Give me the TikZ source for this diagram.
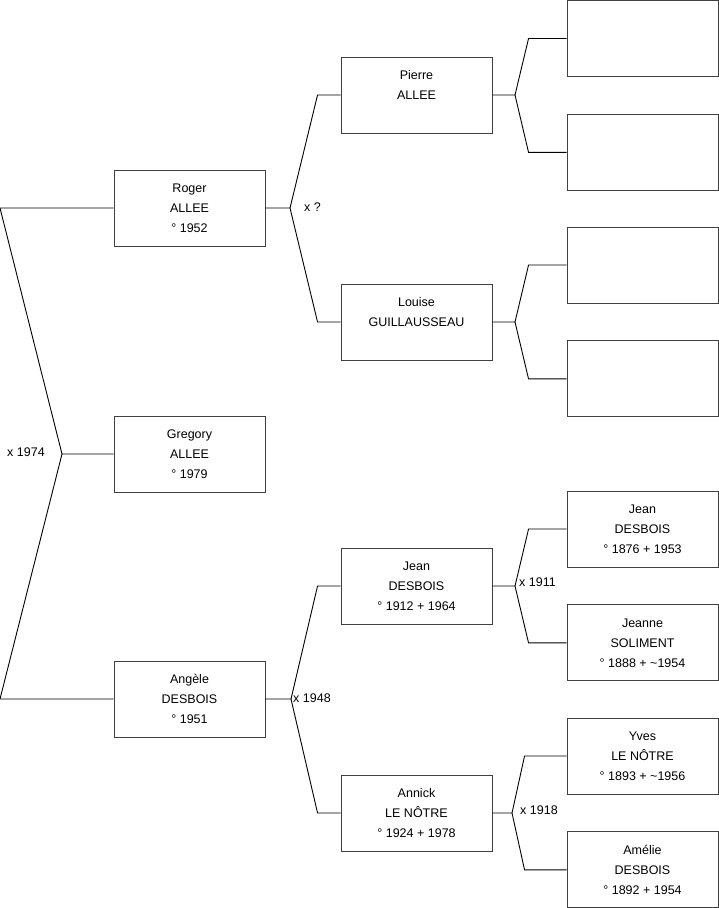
\documentclass[tikz,border=0pt]{standalone}
\usepackage{fontspec}
\setmainfont{Liberation Sans}
\usepackage{tikz}
\usetikzlibrary{positioning}

\begin{document}
\begin{tikzpicture}[
  x=1pt, y=-1pt,
  font=\fontsize{12.5}{20}\selectfont,
  person/.style={draw=black!75, line width=0.9pt, minimum width=151pt,
                 minimum height=76pt, inner sep=0pt, align=center},
  link/.style={line width=0.9pt, black},
  wed/.style={anchor=west, inner sep=0pt}
]
  \useasboundingbox[fill=white] (0,0) rectangle (719,908);

  % generation 1
  \node[person] (roger) at (189.5,208) {Roger\\ALLEE\\° 1952};
  \node[person] (gregory) at (189.5,454) {Gregory\\ALLEE\\° 1979};
  \node[person] (angele) at (189.5,699) {Angèle\\DESBOIS\\° 1951};

  % generation 2
  \node[person] (pierre) at (416.5,95) {Pierre\\ALLEE\\\mbox{}};
  \node[person] (louise) at (416.5,322) {Louise\\GUILLAUSSEAU\\\mbox{}};
  \node[person] (jean) at (416.5,586) {Jean\\DESBOIS\\° 1912 + 1964};
  \node[person] (annick) at (416.5,813) {Annick\\LE NÔTRE\\° 1924 + 1978};

  % generation 3
  \node[person] (pp) at (642.5,38.5) {};
  \node[person, below=37pt of pp] (pm) {};
  \node[person] (lp) at (642.5,265) {};
  \node[person, below=37pt of lp] (lm) {};
  \node[person] (jp) at (642.5,529) {Jean\\DESBOIS\\° 1876 + 1953};
  \node[person, below=37pt of jp] (jm) {Jeanne\\SOLIMENT\\° 1888 + \textasciitilde 1954};
  \node[person] (ap) at (642.5,756) {Yves\\LE NÔTRE\\° 1893 + \textasciitilde 1956};
  \node[person, below=37pt of ap] (am) {Amélie\\DESBOIS\\° 1892 + 1954};

  % root couple
  \coordinate (rtop) at (0,208);
  \coordinate (root) at (62,454);
  \coordinate (rbot) at (0,699);
  \draw[link] (roger.west) -- (rtop) -- (root) -- (gregory.west);
  \draw[link] (root) -- (rbot) -- (angele.west);
  \node[wed] at (7,452) {x 1974};

  % Roger's parents
  \coordinate (m1) at (290,208);
  \draw[link] (roger.east) -- (m1) -- ([xshift=-23pt]pierre.west) -- (pierre.west);
  \draw[link] (m1) -- ([xshift=-23pt]louise.west) -- (louise.west);
  \node[wed] at (304,207) {x ?};

  % Angele's parents
  \coordinate (m2) at (291,699);
  \draw[link] (angele.east) -- (m2) -- ([xshift=-23pt]jean.west) -- (jean.west);
  \draw[link] (m2) -- ([xshift=-23pt]annick.west) -- (annick.west);
  \node[wed] at (293,698) {x 1948};

  % third generation links
  \coordinate (m3) at (515,95);
  \draw[link] (pierre.east) -- (m3) -- ([xshift=-38pt]pp.west) -- (pp.west);
  \draw[link] (m3) -- ([xshift=-38pt]pm.west) -- (pm.west);
  \coordinate (m4) at (515,322);
  \draw[link] (louise.east) -- (m4) -- ([xshift=-38pt]lp.west) -- (lp.west);
  \draw[link] (m4) -- ([xshift=-38pt]lm.west) -- (lm.west);
  \coordinate (m5) at (515,586);
  \draw[link] (jean.east) -- (m5) -- ([xshift=-38pt]jp.west) -- (jp.west);
  \draw[link] (m5) -- ([xshift=-38pt]jm.west) -- (jm.west);
  \node[wed] at (519,582) {x 1911};
  \coordinate (m6) at (512,813);
  \draw[link] (annick.east) -- (m6) -- ([xshift=-42pt]ap.west) -- (ap.west);
  \draw[link] (m6) -- ([xshift=-42pt]am.west) -- (am.west);
  \node[wed] at (520,810) {x 1918};
\end{tikzpicture}
\end{document}
